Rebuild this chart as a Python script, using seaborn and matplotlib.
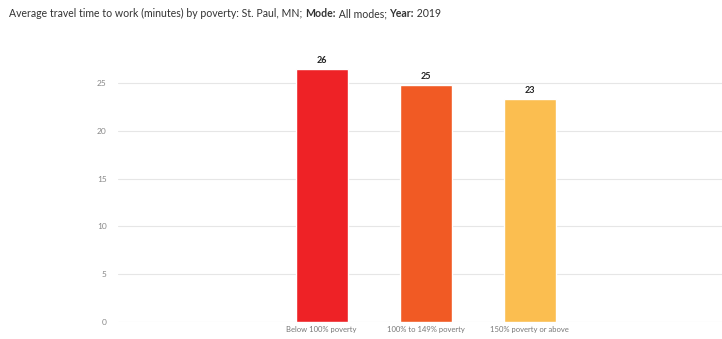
import numpy as np
import pandas as pd
import matplotlib
matplotlib.use("Agg")
import matplotlib.pyplot as plt
import seaborn as sns

# -------- Data --------
categories = ["Below 100% poverty", "100% to 149% poverty", "150% poverty or above"]
travel_minutes = [26.5, 24.8, 23.3]
bar_labels = ["26", "25", "23"]
bar_colors = ["#EE2226", "#F15A24", "#FBBE50"]
y_ticks = [0, 5, 10, 15, 20, 25]

df = pd.DataFrame({"Poverty": categories, "Minutes": travel_minutes})

# -------- Plot setup --------
sns.set_style("white")
plt.rcParams["font.family"] = ["Lato", "DejaVu Sans"]

fig = plt.figure(figsize=(7.22, 3.39), dpi=100)
ax = fig.add_axes([0.163, 0.05, 0.837, 0.79])

sns.barplot(data=df, x="Poverty", y="Minutes", hue="Poverty",
            palette=bar_colors, width=0.5, legend=False, ax=ax, saturation=1)

for i, (v, lab) in enumerate(zip(travel_minutes, bar_labels)):
    ax.text(i, v + 0.4, lab, ha="center", va="bottom", fontsize=6.5,
            fontweight="bold", color="#222222")

ax.set_xlim(-1.96, 3.85)
ax.set_ylim(0, 28)
ax.set_yticks(y_ticks)
ax.set_yticklabels([str(t) for t in y_ticks], fontsize=6, color="#888888")
ax.set_xticks(range(len(categories)))
ax.set_xticklabels(categories, fontsize=5.5, color="#777777")
ax.tick_params(axis="both", length=0, pad=8)
ax.tick_params(axis="x", pad=3)
ax.set_xlabel("")
ax.set_ylabel("")
ax.yaxis.grid(True, color="#E6E6E6", linewidth=0.8)
ax.set_axisbelow(True)
for s in ax.spines.values():
    s.set_visible(False)

# -------- Title (mixed weight, shared baseline) --------
parts = [
    ("Average travel time to work (minutes) by poverty: St. Paul, MN; ", "normal"),
    ("Mode:", "bold"),
    (" All modes; ", "normal"),
    ("Year:", "bold"),
    (" 2019", "normal"),
]
renderer = fig.canvas.get_renderer()
x_px = 9
for txt, weight in parts:
    t = fig.text(x_px / 722, 0.95, txt, fontsize=7.6, color="#333333",
                 fontweight=weight, va="baseline", ha="left")
    x_px = t.get_window_extent(renderer).x1

fig.savefig("out.png", dpi=100)
